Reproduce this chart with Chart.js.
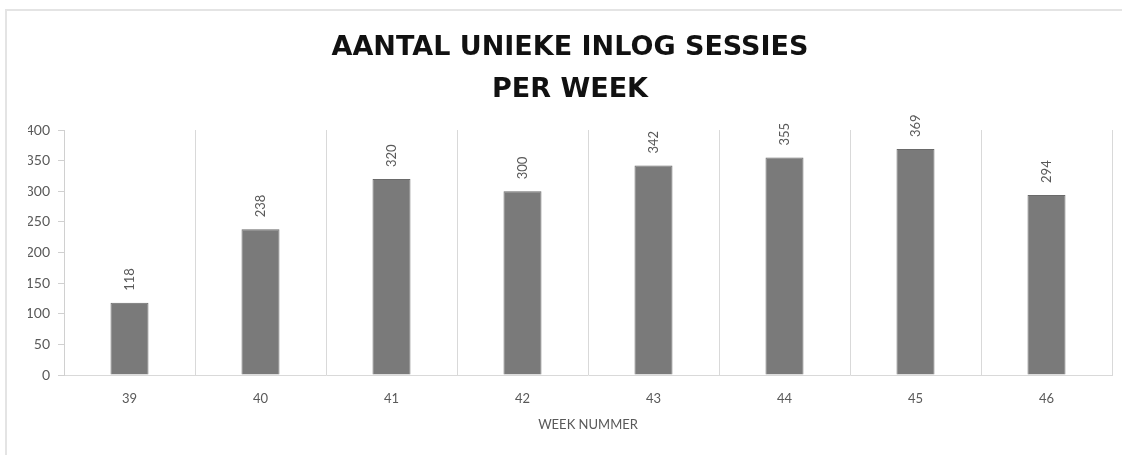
<!DOCTYPE html>
<html>
<head>
<meta charset="utf-8">
<script src="https://cdn.jsdelivr.net/npm/chart.js@4"></script>
<style>
  body { margin: 0; background: #fff; }
  .wrap { position: relative; width: 1122px; height: 455px; }
  .frame { position: absolute; left: 5px; top: 9px; right: -5px; bottom: -5px; border-left: 2px solid #e4e4e4; border-top: 2px solid #e4e4e4; }
  canvas { position: absolute; left: 0; top: 0; }
</style>
</head>
<body>
<div class="wrap">
  <div class="frame"></div>
  <canvas id="sessionsChart" width="1122" height="455"></canvas>
</div>
<script>
// data
const weeks = ["39", "40", "41", "42", "43", "44", "45", "46"];
const sessions = [118, 238, 320, 300, 342, 355, 369, 294];
const yTicks = [0, 50, 100, 150, 200, 250, 300, 350, 400];

// draw value above each bar, rotated
const barLabels = {
  id: "barLabels",
  afterDatasetsDraw(chart) {
    const ctx = chart.ctx;
    const meta = chart.getDatasetMeta(0);
    ctx.save();
    ctx.font = "13px Lato";
    ctx.fillStyle = "#595959";
    ctx.textAlign = "left";
    ctx.textBaseline = "middle";
    meta.data.forEach((bar, i) => {
      ctx.save();
      ctx.translate(bar.x, bar.y - 12);
      ctx.rotate(-Math.PI / 2);
      ctx.fillText(String(sessions[i]), 0, 0);
      ctx.restore();
    });
    ctx.restore();
  },
};

const ctx = document.getElementById("sessionsChart").getContext("2d");
new Chart(ctx, {
  type: "bar",
  data: {
    labels: weeks,
    datasets: [
      {
        data: sessions,
        backgroundColor: "#7a7a7a",
        borderColor: "#6a6a6a",
        borderWidth: 1,
        barPercentage: 0.58,
        categoryPercentage: 0.5,
      },
    ],
  },
  options: {
    responsive: false,
    animation: false,
    layout: { padding: { left: 28, right: 10, top: 0, bottom: 0 } },
    plugins: {
      legend: { display: false },
      tooltip: { enabled: false },
      title: {
        display: true,
        text: ["AANTAL UNIEKE INLOG SESSIES", "PER WEEK"],
        color: "#111",
        font: { family: "DejaVu Sans", weight: "bold", size: 27, lineHeight: 42 / 27 },
        padding: { top: 27, bottom: 19 },
      },
    },
    scales: {
      x: {
        afterFit(scale) { scale.height = 80; },
        grid: { offset: true, color: "#d9d9d9", drawTicks: false },
        border: { color: "#d9d9d9" },
        ticks: { color: "#595959", padding: 16, font: { family: "Lato", size: 13 } },
        title: {
          display: true,
          text: "WEEK NUMMER",
          color: "#595959",
          font: { family: "Lato", size: 13 },
          padding: { top: 4, bottom: 22 },
        },
      },
      y: {
        min: 0,
        max: 400,
        afterFit(scale) { scale.width = 36; },
        afterBuildTicks(scale) { scale.ticks = yTicks.map((v) => ({ value: v })); },
        grid: { drawOnChartArea: false, drawTicks: true, tickLength: 6, color: "#d0d0d0" },
        border: { color: "#d0d0d0" },
        ticks: { color: "#595959", padding: 8, font: { family: "Lato", size: 14 } },
      },
    },
  },
  plugins: [barLabels],
});
</script>
</body>
</html>
